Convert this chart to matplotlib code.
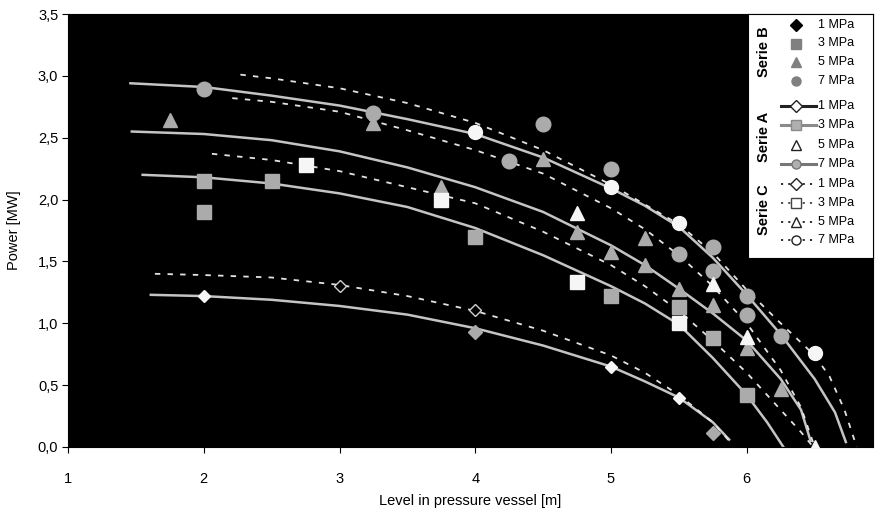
import matplotlib
matplotlib.use("Agg")
import matplotlib.pyplot as plt
from matplotlib.lines import Line2D

plt.rcParams['font.family'] = ['Liberation Sans', 'DejaVu Sans']

# ---- curves ----
s7_x = [1.46, 2.0, 2.5, 3.0, 3.5, 4.0, 4.5, 5.0, 5.25, 5.5, 5.75, 6.0, 6.25, 6.5, 6.65, 6.73]
s7_y = [2.94, 2.91, 2.84, 2.76, 2.65, 2.53, 2.34, 2.09, 1.95, 1.78, 1.53, 1.23, 0.91, 0.55, 0.28, 0.04]
c7_x = [2.27, 2.5, 3.0, 3.5, 4.0, 4.5, 5.0, 5.25, 5.5, 5.75, 6.0, 6.25, 6.5, 6.61, 6.72, 6.81]
c7_y = [3.01, 2.98, 2.90, 2.78, 2.62, 2.40, 2.12, 1.96, 1.80, 1.57, 1.27, 1.00, 0.74, 0.57, 0.30, 0.0]
c5_x = [2.21, 2.5, 3.0, 3.5, 4.0, 4.5, 5.0, 5.25, 5.5, 5.75, 6.0, 6.25, 6.4, 6.5]
c5_y = [2.82, 2.79, 2.71, 2.56, 2.40, 2.21, 1.93, 1.76, 1.55, 1.30, 1.0, 0.62, 0.32, 0.0]
s5_x = [1.47, 2.0, 2.5, 3.0, 3.5, 4.0, 4.5, 5.0, 5.25, 5.5, 5.75, 6.0, 6.25, 6.4, 6.47]
s5_y = [2.55, 2.53, 2.48, 2.39, 2.26, 2.10, 1.90, 1.63, 1.47, 1.28, 1.08, 0.86, 0.55, 0.30, 0.05]
c3_x = [2.06, 2.5, 3.0, 3.5, 4.0, 4.5, 5.0, 5.25, 5.5, 5.75, 6.0, 6.25, 6.4, 6.49]
c3_y = [2.37, 2.32, 2.23, 2.10, 1.97, 1.74, 1.47, 1.30, 1.10, 0.86, 0.60, 0.30, 0.12, 0.0]
s3_x = [1.55, 2.0, 2.5, 3.0, 3.5, 4.0, 4.5, 5.0, 5.25, 5.5, 5.75, 6.0, 6.15, 6.27]
s3_y = [2.20, 2.18, 2.13, 2.05, 1.94, 1.77, 1.55, 1.30, 1.16, 0.99, 0.72, 0.42, 0.20, 0.0]
c1_x = [1.64, 2.0, 2.5, 3.0, 3.5, 4.0, 4.5, 5.0, 5.25, 5.5, 5.75, 5.87]
c1_y = [1.40, 1.39, 1.37, 1.31, 1.22, 1.10, 0.94, 0.74, 0.60, 0.42, 0.20, 0.05]
s1_x = [1.61, 2.0, 2.5, 3.0, 3.5, 4.0, 4.5, 5.0, 5.25, 5.5, 5.75, 5.87]
s1_y = [1.23, 1.22, 1.19, 1.14, 1.07, 0.96, 0.82, 0.65, 0.53, 0.40, 0.20, 0.06]

# ---- Serie B measured points (grey) ----
b1_x = [4.0, 5.75]
b1_y = [0.93, 0.11]
b3_x = [2.0, 2.0, 2.5, 4.0, 5.0, 5.5, 5.75, 6.0]
b3_y = [2.15, 1.90, 2.15, 1.70, 1.22, 1.13, 0.88, 0.42]
b5_x = [1.75, 3.25, 3.75, 4.5, 4.75, 5.0, 5.25, 5.25, 5.5, 5.75, 6.0, 6.25]
b5_y = [2.64, 2.62, 2.10, 2.33, 1.74, 1.58, 1.69, 1.47, 1.28, 1.15, 0.80, 0.47]
b7_x = [2.0, 3.25, 4.25, 4.5, 5.0, 5.5, 5.75, 5.75, 6.0, 6.0, 6.25]
b7_y = [2.89, 2.70, 2.31, 2.61, 2.25, 1.56, 1.62, 1.42, 1.22, 1.07, 0.90]

# ---- bright markers on the curves ----
w1_x = [2.0, 5.0, 5.5]
w1_y = [1.22, 0.65, 0.40]
w3_x = [2.75, 3.75, 4.75, 5.5]
w3_y = [2.28, 2.0, 1.33, 1.0]
w5_x = [4.75, 5.75, 6.0, 6.5]
w5_y = [1.89, 1.32, 0.89, 0.0]
w7_x = [4.0, 5.0, 5.5, 6.5]
w7_y = [2.55, 2.10, 1.81, 0.76]
# faint open markers of Serie C 1 MPa
o1_x = [3.0, 4.0]
o1_y = [1.30, 1.11]

yticks = [0.0, 0.5, 1.0, 1.5, 2.0, 2.5, 3.0, 3.5]
ytick_labels = ['0,0', '0,5', '1,0', '1,5', '2,0', '2,5', '3,0', '3,5']
xticks = [1, 2, 3, 4, 5, 6]
legend_labels = ['1 MPa', '3 MPa', '5 MPa', '7 MPa'] * 3
group_labels = ['Serie B', 'Serie A', 'Serie C']

W, H = 876, 514
fig = plt.figure(figsize=(W/100, H/100), dpi=100)
ax = fig.add_axes([68/W, 1-447/H, 805/W, 433/H])
ax.set_facecolor('black')

line_col = '#c4c4c4'
dash_col = '#e2e2e2'
for xs, ys in [(s7_x, s7_y), (s5_x, s5_y), (s3_x, s3_y), (s1_x, s1_y)]:
    ax.plot(xs, ys, color=line_col, lw=1.8, zorder=2, solid_joinstyle='round')
for xs, ys in [(c7_x, c7_y), (c5_x, c5_y), (c3_x, c3_y), (c1_x, c1_y)]:
    ax.plot(xs, ys, color=dash_col, lw=1.3, ls=(0, (3, 4)), zorder=2)

grey = '#ababab'
ax.plot(b1_x, b1_y, ls='none', marker='D', ms=7, color=grey, zorder=3)
ax.plot(b3_x, b3_y, ls='none', marker='s', ms=10.5, color=grey, zorder=3)
ax.plot(b5_x, b5_y, ls='none', marker='^', ms=10.5, color=grey, zorder=3)
ax.plot(b7_x, b7_y, ls='none', marker='o', ms=10.5, color=grey, zorder=3)

white = '#f6f6f6'
ax.plot(w1_x, w1_y, ls='none', marker='D', ms=6.5, color=white, zorder=4)
ax.plot(w3_x, w3_y, ls='none', marker='s', ms=10, color=white, zorder=4)
ax.plot(w5_x, w5_y, ls='none', marker='^', ms=10, color=white, zorder=4)
ax.plot(w7_x, w7_y, ls='none', marker='o', ms=10, color=white, zorder=4)
ax.plot(o1_x, o1_y, ls='none', marker='D', ms=6, mfc='black', mec='#cfcfcf', mew=1.0, zorder=4)

ax.set_xlim(1, 6.93)
ax.set_ylim(0, 3.5)
ax.set_xticks(xticks)
ax.set_xticklabels([str(t) for t in xticks])
ax.set_yticks(yticks)
ax.set_yticklabels(ytick_labels)
ax.tick_params(direction='out', length=4, labelsize=10.5)
ax.tick_params(axis='x', pad=14)
ax.tick_params(axis='y', pad=3)
ax.set_xlabel('Level in pressure vessel [m]', fontsize=10.5, labelpad=6)
ax.set_ylabel('Power [MW]', fontsize=10.5, labelpad=12)

# ---- legend drawn in its own white box (pixel coordinates) ----
L, R, T, B = 748, 873, 14, 258
lax = fig.add_axes([L/W, 1-B/H, (R-L)/W, (B-T)/H])
lax.set_xlim(L, R)
lax.set_ylim(B, T)
lax.set_xticks([])
lax.set_yticks([])
lax.set_facecolor('white')
for sp in lax.spines.values():
    sp.set_linewidth(0.8)
    sp.set_color('black')

row_y = [25, 43.5, 62, 80.5, 106, 125, 145, 164, 184, 203, 222, 240]
mx = 796
x0, x1 = 781, 816
specs = [
    dict(ls='none', marker='D', ms=6, color='black'),
    dict(ls='none', marker='s', ms=6.5, color='#808080'),
    dict(ls='none', marker='^', ms=6.5, color='#808080'),
    dict(ls='none', marker='o', ms=6.5, color='#808080'),
    dict(ls='-', lw=2.2, marker='D', ms=6, color='#222222', mfc='white'),
    dict(ls='-', lw=2.2, marker='s', ms=6.5, color='#8a8a8a', mfc='#b0b0b0'),
    dict(ls='none', marker='^', ms=6.5, color='#222222', mfc='white'),
    dict(ls='-', lw=2.2, marker='o', ms=6.5, color='#777777', mfc='#b0b0b0'),
    dict(ls=(0, (1.2, 2.8)), lw=1.3, marker='D', ms=6, color='#222222', mfc='white'),
    dict(ls=(0, (1.2, 2.8)), lw=1.3, marker='s', ms=6.5, color='#444444', mfc='white'),
    dict(ls=(0, (1.2, 2.8)), lw=1.3, marker='^', ms=6.5, color='#222222', mfc='white'),
    dict(ls=(0, (1.2, 2.8)), lw=1.3, marker='o', ms=6.5, color='#222222', mfc='white'),
]
for yy, lbl, sp in zip(row_y, legend_labels, specs):
    if sp.get('ls') == 'none':
        lax.add_line(Line2D([mx], [yy], **sp))
    else:
        lax.add_line(Line2D([x0, x1], [yy, yy], markevery=[], **sp))
        msp = dict(sp)
        msp['ls'] = 'none'
        lax.add_line(Line2D([mx], [yy], **msp))
    lax.text(818, yy, lbl, ha='left', va='center', fontsize=9)

for lbl, ypx in zip(group_labels, [52, 137, 210]):
    lax.text(764, ypx, lbl, rotation=90, ha='center', va='center',
             fontsize=10.5, fontweight='bold')

fig.savefig('out.png', dpi=100)
